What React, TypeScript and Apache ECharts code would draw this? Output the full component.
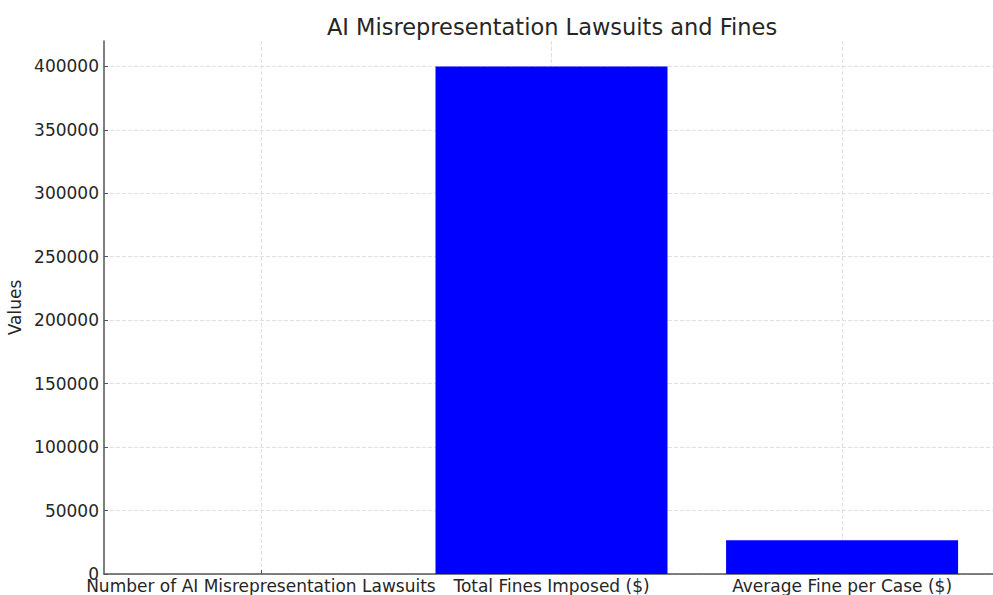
import React, { useEffect, useRef } from "react";
import * as echarts from "echarts";

const categories = [
  "Number of AI Misrepresentation Lawsuits",
  "Total Fines Imposed ($)",
  "Average Fine per Case ($)",
];
const values = [15, 400000, 26667];
const yTicks = [0, 50000, 100000, 150000, 200000, 250000, 300000, 350000, 400000];
const xTicks = [0, 1, 2];

export default function App() {
  const ref = useRef<HTMLDivElement>(null);
  useEffect(() => {
    if (!ref.current) return;
    const chart = echarts.init(ref.current, null, { renderer: "svg" });
    const font = "DejaVu Sans";
    const textColor = "#262626";
    chart.setOption({
      animation: false,
      title: {
        text: "AI Misrepresentation Lawsuits and Fines",
        left: 547,
        top: 10,
        textAlign: "center",
        textStyle: { fontFamily: font, fontSize: 22.5, fontWeight: "normal", color: textColor },
      },
      grid: {
        left: 104,
        right: -6,
        top: 41,
        bottom: 21,
        containLabel: false,
        outerBoundsMode: "none",
      },
      xAxis: {
        type: "value",
        min: -0.54,
        max: 2.54,
        axisLine: { show: true, onZero: false, lineStyle: { color: "#555555", width: 1.5 } },
        axisTick: { show: true, inside: true, length: 4, customValues: xTicks, lineStyle: { color: "#555555" } },
        axisLabel: {
          customValues: xTicks,
          formatter: (v: number) => categories[Math.round(v)] ?? "",
          fontFamily: font,
          fontSize: 17,
          color: textColor,
          margin: 3,
        },
        splitLine: { show: true, lineStyle: { color: "#e0e0e0", type: "dashed", width: 1 } },
      },
      yAxis: {
        type: "value",
        min: 0,
        max: 420000,
        name: "Values",
        nameLocation: "middle",
        nameGap: 75,
        nameTextStyle: { fontFamily: font, fontSize: 17, color: textColor },
        axisLine: { show: true, onZero: false, lineStyle: { color: "#555555", width: 1.5 } },
        axisTick: { show: true, inside: true, length: 4, customValues: yTicks, lineStyle: { color: "#555555" } },
        axisLabel: {
          customValues: yTicks,
          formatter: (v: number) => String(v),
          fontFamily: font,
          fontSize: 17,
          color: textColor,
          margin: 5,
        },
        splitLine: { show: true, lineStyle: { color: "#e0e0e0", type: "dashed", width: 1 } },
      },
      series: [
        {
          type: "bar",
          data: values.map((v, i) => [i, v]),
          barWidth: 232,
          itemStyle: { color: "#0000ff" },
          z: 1,
        },
      ],
    });
    return () => chart.dispose();
  }, []);
  return <div ref={ref} style={{ width: 993, height: 595, position: "absolute", left: 0, top: 0 }} />;
}
